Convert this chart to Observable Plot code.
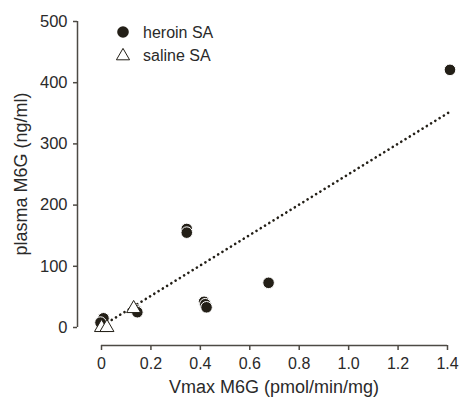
<!DOCTYPE html>
<html>
<head>
<meta charset="utf-8">
<script src="https://cdn.jsdelivr.net/npm/d3@7"></script>
<script src="https://cdn.jsdelivr.net/npm/@observablehq/plot@0.6"></script>
<style>
  html, body { margin: 0; padding: 0; background: #fff; }
  #chart { position: relative; width: 460px; height: 397px; }
  svg { font-family: "Liberation Sans", Arial, sans-serif; }
</style>
</head>
<body>
<div id="chart"></div>
<script>
// Data
const heroinX = [1.41, 0.345, 0.345, 0.676, 0.415, 0.42, 0.425, 0.14, 0.145, 0.008, -0.004];
const heroinY = [421, 161, 155, 73, 42, 38, 33, 28, 25, 15, 8];
const salineX = [0.0, 0.022, 0.13];
const salineY = [0, 0, 31];
const fitX = [0.024, 1.412];
const fitY = [8, 353];
const xTicks = [0, 0.2, 0.4, 0.6, 0.8, 1.0, 1.2, 1.4];
const xTickLabels = ["0", "0.2", "0.4", "0.6", "0.8", "1.0", "1.2", "1.4"];
const yTicks = [0, 100, 200, 300, 400, 500];
const seriesNames = ["heroin SA", "saline SA"];

const heroin = heroinX.map((x, i) => ({x, y: heroinY[i]}));
const saline = salineX.map((x, i) => ({x, y: salineY[i]}));
const fit = fitX.map((x, i) => ({x, y: fitY[i]}));

const ink = "#231f17";
const axisInk = "#4d4a44";
const textInk = "#2a2a2a";

const plot = Plot.plot({
  width: 460,
  height: 397,
  marginLeft: 77,
  marginRight: 13,
  marginTop: 21,
  marginBottom: 52,
  insetLeft: 24,
  insetBottom: 18,
  style: {fontSize: "16px", fontFamily: "'Liberation Sans', Arial, sans-serif", color: textInk, background: "#fff"},
  x: {domain: [0, 1.4]},
  y: {domain: [0, 500]},
  marks: [
    Plot.axisY({ticks: yTicks, tickSize: 4, tickPadding: 6, stroke: axisInk, strokeWidth: 1.5, fill: textInk, fontSize: 16.5, label: null}),
    Plot.axisX({ticks: xTicks, tickFormat: (d) => xTickLabels[xTicks.indexOf(d)], tickSize: 5, tickPadding: 7, stroke: axisInk, strokeWidth: 1.5, fill: textInk, fontSize: 16, label: null}),
    Plot.ruleX([0], {y1: 0, y2: 500, dx: -24, stroke: axisInk, strokeWidth: 1.5}),
    Plot.ruleY([0], {x1: 0, x2: 1.4, dy: 18, stroke: axisInk, strokeWidth: 1.5}),
    Plot.line(fit, {x: "x", y: "y", stroke: ink, strokeWidth: 2.6, strokeDasharray: "0.1,4.9", strokeLinecap: "round"}),
    Plot.dot(heroin, {x: "x", y: "y", r: 5.8, fill: ink, stroke: "#fff", strokeWidth: 1}),
    Plot.dot(saline, {x: "x", y: "y", symbol: "triangle", r: 5.2, fill: "#fff", stroke: ink, strokeWidth: 1})
  ]
});

// axis titles
const svg = d3.select(plot);
svg.append("text")
  .attr("x", 274).attr("y", 393)
  .attr("text-anchor", "middle")
  .attr("font-size", 18).attr("fill", textInk)
  .text("Vmax M6G (pmol/min/mg)");
svg.append("text")
  .attr("transform", "translate(27,174) rotate(-90)")
  .attr("text-anchor", "middle")
  .attr("font-size", 18).attr("fill", textInk)
  .text("plasma M6G (ng/ml)");

// legend
const lg = svg.append("g").attr("text-anchor", "start");
lg.append("circle").attr("cx", 123).attr("cy", 32).attr("r", 5.8).attr("fill", ink);
lg.append("path").attr("d", d3.symbol(d3.symbolTriangle, 75)()).attr("transform", "translate(123,56)")
  .attr("fill", "#fff").attr("stroke", ink).attr("stroke-width", 1);
lg.append("text").attr("x", 143).attr("y", 32).attr("dy", "0.35em").attr("font-size", 16).attr("fill", textInk).text(seriesNames[0]);
lg.append("text").attr("x", 143).attr("y", 55).attr("dy", "0.35em").attr("font-size", 16).attr("fill", textInk).text(seriesNames[1]);

document.getElementById("chart").appendChild(plot);
</script>
</body>
</html>
